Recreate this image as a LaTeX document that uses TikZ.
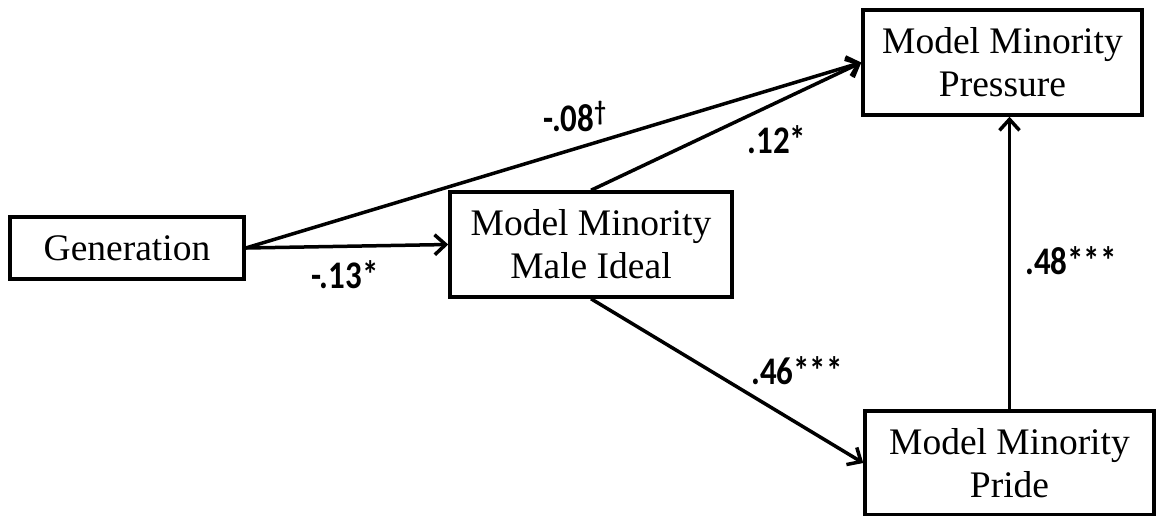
\documentclass[tikz,border=0pt]{standalone}
\usepackage{graphicx}
\usepackage{fontspec}
\setmainfont{Liberation Serif}
\newfontfamily\lblfont{Carlito}
\usetikzlibrary{arrows.meta}
\newcommand{\coeftext}[1]{\scalebox{1.03}[1.22]{#1}}
\tikzset{
  boxnode/.style={draw=black, line width=3.5pt, fill=white, inner sep=0pt, align=center,
    font=\fontsize{37.5}{43}\selectfont},
  pathline/.style={line width=3.5pt, -{Straight Barb[length=11pt,width=20pt,line width=3.5pt]}},
  coef/.style={font=\lblfont\bfseries\fontsize{32}{36}\selectfont, inner sep=0pt}
}
\begin{document}
\begin{tikzpicture}[x=1pt,y=-1pt]
\useasboundingbox (0,0) rectangle (1156,515);
\node[boxnode, minimum width=234pt, minimum height=62pt] (gen) at (127,248) {Generation};
\node[boxnode, minimum width=282pt, minimum height=105pt] (ideal) at (591,244.5) {Model Minority\\Male Ideal};
\node[boxnode, minimum width=279pt, minimum height=105pt] (press) at (1002.5,62.5) {Model Minority\\Pressure};
\node[boxnode, minimum width=289pt, minimum height=104pt] (pride) at (1009.5,463) {Model Minority\\Pride};

\draw[pathline] (gen.east) -- (ideal.west);
\draw[pathline] (gen.east) -- (press.west);
\draw[pathline] (ideal.north) -- (press.west);
\draw[pathline] (ideal.south) -- (pride.west);
\draw[pathline] (pride.north) -- (pride.north |- press.south);

\node[coef] (c1) at (575,116) {\coeftext{-.08\textsuperscript{\textdagger}}};
\node[coef] (c2) at (777,140) {\coeftext{.12*}};
\node[coef] (c3) at (345,275) {\coeftext{-.13*}};
\node[coef] (c4) at (797,371) {\coeftext{.46***}};
\node[coef] (c5) at (1071,261) {\coeftext{.48***}};
\end{tikzpicture}
\end{document}
